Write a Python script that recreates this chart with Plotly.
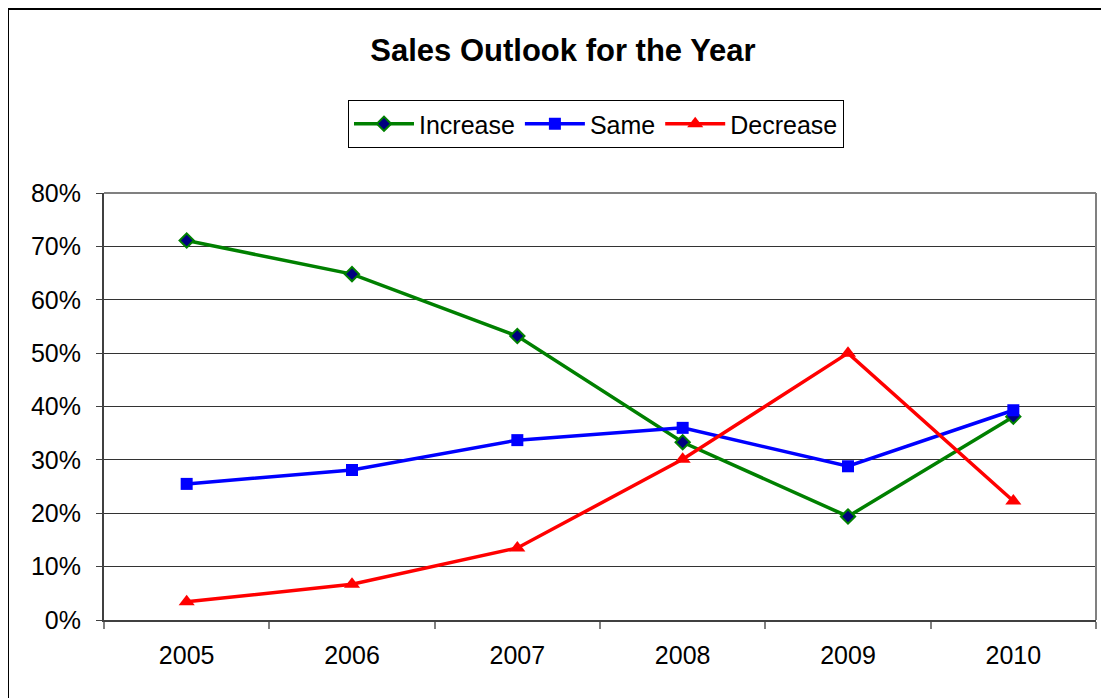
import plotly.graph_objects as go

years = ["2005", "2006", "2007", "2008", "2009", "2010"]
increase = [0.711, 0.648, 0.532, 0.333, 0.194, 0.381]
same = [0.255, 0.281, 0.337, 0.360, 0.288, 0.393]
decrease = [0.034, 0.067, 0.135, 0.301, 0.500, 0.223]
y_ticks = [0, 0.1, 0.2, 0.3, 0.4, 0.5, 0.6, 0.7, 0.8]
y_labels = ["0%", "10%", "20%", "30%", "40%", "50%", "60%", "70%", "80%"]

fig = go.Figure()
fig.add_trace(go.Scatter(
    x=years, y=increase, name="Increase", mode="lines+markers",
    line=dict(color="#008000", width=3.5),
    marker=dict(symbol="diamond", size=11, color="#000080",
                line=dict(color="#008000", width=2)),
))
fig.add_trace(go.Scatter(
    x=years, y=same, name="Same", mode="lines+markers",
    line=dict(color="#0000FF", width=3.5),
    marker=dict(symbol="square", size=12, color="#0000FF"),
))
fig.add_trace(go.Scatter(
    x=years, y=decrease, name="Decrease", mode="lines+markers",
    line=dict(color="#FF0000", width=3.5),
    marker=dict(symbol="triangle-up", size=14, color="#FF0000"),
))

W, H = 1101, 690
L, R, T, B = 96, 13, 185, 78
pw, ph = W - L - R, H - T - B

font_family = "Liberation Sans, Arial, sans-serif"
fig.update_layout(
    width=W, height=H,
    margin=dict(l=L, r=R, t=T, b=B),
    paper_bgcolor="white", plot_bgcolor="white",
    font=dict(family=font_family, size=25, color="black"),
    title=dict(text="<b>Sales Outlook for the Year</b>", x=(555 - L) / pw, xref="paper",
               xanchor="center", y=1 - 42 / H, yanchor="middle",
               font=dict(family=font_family, size=31, color="black")),
    showlegend=True,
    legend=dict(orientation="h", x=(340 - L) / pw, xanchor="left",
                y=(H - B - 92) / ph, yanchor="top",
                bordercolor="black", borderwidth=1, bgcolor="white",
                font=dict(family=font_family, size=25, color="black"),
                itemwidth=60, tracegroupgap=0),
    xaxis=dict(type="category", range=[-0.5, 5.5], tickson="boundaries",
               ticks="outside", ticklen=7, tickcolor="#808080", tickwidth=2,
               showline=True, linecolor="#404040", linewidth=2,
               mirror=False, showgrid=False, zeroline=False,
               ticklabelstandoff=12, tickfont=dict(size=25)),
    yaxis=dict(range=[0, 0.8], tickvals=y_ticks, ticktext=y_labels,
               ticks="outside", ticklen=6, tickcolor="#404040",
               showline=True, linecolor="#404040", linewidth=2,
               showgrid=True, gridcolor="#333333", gridwidth=1,
               zeroline=False, ticklabelstandoff=10, tickfont=dict(size=25)),
    shapes=[
        dict(type="line", xref="paper", yref="paper", x0=0, x1=1, y0=1, y1=1,
             line=dict(color="#808080", width=2)),
        dict(type="line", xref="paper", yref="paper", x0=1, x1=1, y0=0, y1=1,
             line=dict(color="#808080", width=2)),
        dict(type="rect", xref="paper", yref="paper",
             x0=-L / pw, x1=1.2, y0=-0.5, y1=(ph + T - 1) / ph,
             line=dict(color="black", width=2), fillcolor="rgba(0,0,0,0)"),
    ],
)

fig.write_html("out.html")
